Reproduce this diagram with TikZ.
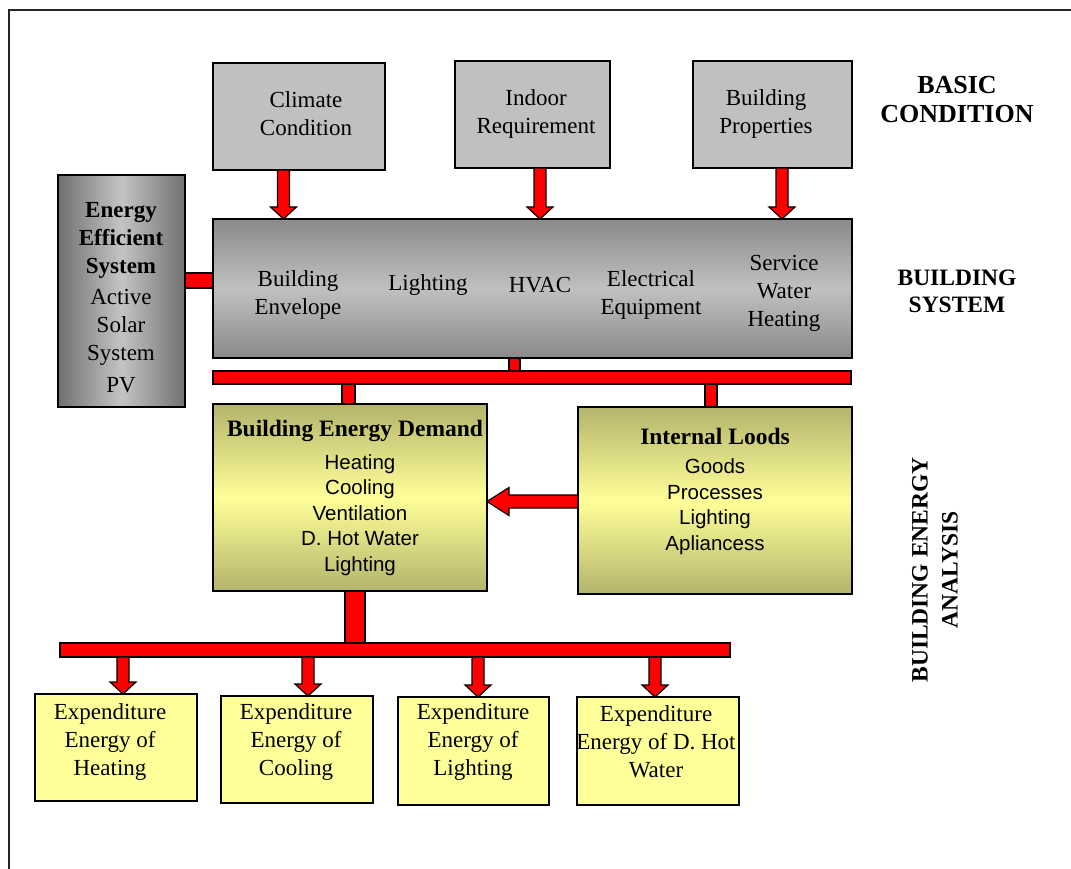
\documentclass[tikz,border=0pt]{standalone}
\usepackage{fontspec}
\setmainfont{Liberation Serif}
\newfontfamily\arialf{Liberation Sans}
\usetikzlibrary{calc}
\definecolor{boxgray}{RGB}{192,192,192}
\definecolor{dkgray}{RGB}{138,138,138}
\definecolor{sidegray}{RGB}{112,112,112}
\definecolor{litegray}{RGB}{196,196,196}
\definecolor{olive}{RGB}{180,180,108}
\definecolor{paleyel}{RGB}{255,255,153}
\definecolor{expyel}{RGB}{255,255,153}
\newcommand\vlink[4]{\filldraw[redc] let \p1=(#1), \p2=(#2) in (#3pt-#4pt,\y1) rectangle (#3pt+#4pt,\y2);}
\newcommand\darrow[3]{\filldraw[redc] let \p1=(#1), \p2=(#2) in (#3pt-6pt,\y1) -- (#3pt+6pt,\y1) -- (#3pt+6pt,\y2+12pt) -- (#3pt+13pt,\y2+12pt) -- (#3pt,\y2) -- (#3pt-13pt,\y2+12pt) -- (#3pt-6pt,\y2+12pt) -- cycle;}
\begin{document}
\begin{tikzpicture}[x=1pt,y=-1pt,
  box/.style={draw=black, line width=1.3pt, inner sep=0pt, outer sep=0pt},
  graybox/.style={box, fill=boxgray},
  yelbox/.style={box, fill=expyel},
  olivebox/.style={box, top color=olive, bottom color=olive, middle color=paleyel},
  redc/.style={fill=red, draw=black, line width=1.2pt},
  serif/.style={font=\fontsize{23}{28}\selectfont, align=center, inner sep=0pt},
  sans/.style={font=\arialf\fontsize{20.5}{25.5}\selectfont, align=center, inner sep=0pt},
  hdr/.style={font=\bfseries\fontsize{23.5}{27}\selectfont, align=center, inner sep=0pt}]
\useasboundingbox (0,0) rectangle (1071,869);
\fill[white] (0,0) rectangle (1071,869);
% frame
\draw[line width=1.6pt, black!85] (9,869) -- (9,10) -- (1071,10);

% basic condition boxes
\node[graybox, minimum width=172, minimum height=107] (cc) at (299,116.5) {};
\node[graybox, minimum width=155, minimum height=107] (ir) at (532.5,114.5) {};
\node[graybox, minimum width=159, minimum height=107] (bp) at (772.5,114.5) {};
\node[serif] (cct) at (306,113.5) {Climate\\Condition};
\node[serif] (irt) at (536,113.5) {Indoor\\Requirement};
\node[serif] (bpt) at (766,113.5) {Building\\Properties};

% building system
\node[box, minimum width=639, minimum height=139, top color=dkgray, bottom color=dkgray, middle color=boxgray] (bs) at (532.5,288.5) {};
\node[serif] (bs1) at (298,294.5) {Building\\Envelope};
\node[serif] (bs2) at (428,285) {Lighting};
\node[serif] (bs3) at (540,285) {HVAC};
\node[serif] (bs4) at (651,294.5) {Electrical\\Equipment};
\node[serif] (bs5) at (784,293.5) {Service\\Water\\Heating};

% energy efficient system
\node[box, minimum width=127, minimum height=232, left color=sidegray, right color=sidegray, middle color=litegray] (ees) at (121.5,291) {};
\node[serif] (eest) at (121,298) {\textbf{Energy}\\\textbf{Efficient}\\\textbf{System}\\[3pt]Active\\Solar\\System\\[4pt]PV};

% red bar 1
\node[box, fill=red, line width=1.2pt, minimum width=638, minimum height=13] (bar1) at (532,377.5) {};

% demand and internal loads
\node[olivebox, minimum width=274, minimum height=187] (bed) at (350,497.5) {};
\node[hdr] (bedt) at (355,431) {Building Energy Demand};
\node[sans] (bedl) at (360,515) {Heating\\Cooling\\Ventilation\\D. Hot Water\\Lighting};
\node[olivebox, minimum width=274, minimum height=187] (il) at (715,500.5) {};
\node[hdr] (ilt) at (715,436) {Internal Loods};
\node[sans] (ill) at (715,506.5) {Goods\\Processes\\Lighting\\Apliancess};

% red bar 2
\node[box, fill=red, line width=1.2pt, minimum width=670, minimum height=14] (bar2) at (395,650) {};

% expenditure boxes
\node[yelbox, minimum width=162, minimum height=107] (e1) at (116,747.5) {};
\node[yelbox, minimum width=152, minimum height=107] (e2) at (297,749.5) {};
\node[yelbox, minimum width=151, minimum height=108] (e3) at (473.5,751) {};
\node[yelbox, minimum width=162, minimum height=108] (e4) at (658,751) {};
\node[serif] (e1t) at (110,741.5) {Expenditure\\Energy of\\Heating};
\node[serif] (e2t) at (296,741.5) {Expenditure\\Energy of\\Cooling};
\node[serif] (e3t) at (473,741.5) {Expenditure\\Energy of\\Lighting};
\node[serif] (e4t) at (656,741.5) {Expenditure\\Energy of D. Hot\\Water};

% right-side headings
\node[hdr, font=\bfseries\fontsize{26}{29}\selectfont] (h1) at (957,100) {BASIC\\CONDITION};
\node[hdr] (h2) at (957,291) {BUILDING\\SYSTEM};
\node[hdr, font=\bfseries\fontsize{23.5}{30}\selectfont, rotate=90] (h3) at (935,570) {BUILDING ENERGY\\ANALYSIS};

% connectors
\darrow{cc.south}{bs.north}{283.5}
\darrow{ir.south}{bs.north}{540}
\darrow{bp.south}{bs.north}{782}
\filldraw[redc] let \p1=(ees.east), \p2=(bs.west) in (\x1,-273pt) rectangle (\x2,-288pt);
\vlink{bs.south}{bar1.north}{514.5}{5.5}
\vlink{bar1.south}{bed.north}{348.5}{6.5}
\vlink{bar1.south}{il.north}{711}{6}
\filldraw[redc] let \p1=(il.west), \p2=(bed.east) in
  (\x1,-495pt) -- (\x2+22pt,-495pt) -- (\x2+22pt,-487.5pt) -- (\x2,-501.5pt)
  -- (\x2+22pt,-515.5pt) -- (\x2+22pt,-508pt) -- (\x1,-508pt) -- cycle;
\vlink{bed.south}{bar2.north}{355}{10}
\darrow{bar2.south}{e1.north}{123}
\darrow{bar2.south}{e2.north}{308}
\darrow{bar2.south}{e3.north}{478}
\darrow{bar2.south}{e4.north}{655}
\end{tikzpicture}
\end{document}
